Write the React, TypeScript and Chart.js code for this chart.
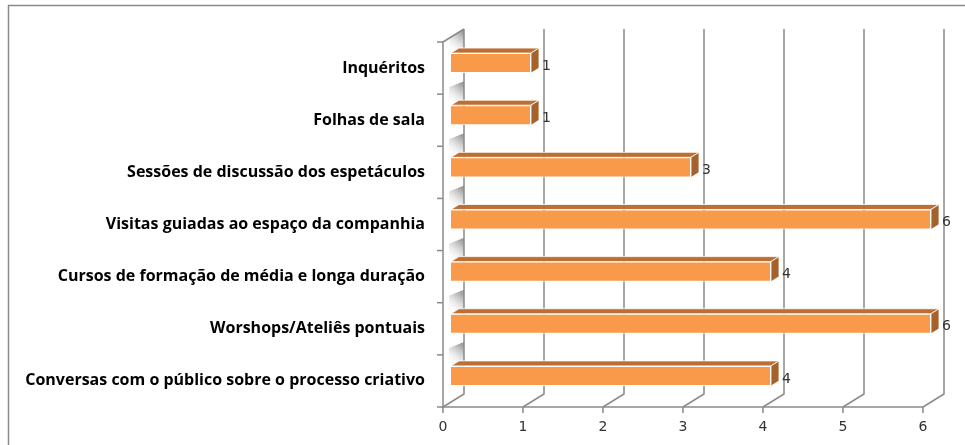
import React, { useEffect, useRef } from 'react';
import { Chart, registerables } from 'chart.js';

Chart.register(...registerables);

const categories = [
  'Inquéritos',
  'Folhas de sala',
  'Sessões de discussão dos espetáculos',
  'Visitas guiadas ao espaço da companhia',
  'Cursos de formação de média e longa duração',
  'Worshops/Ateliês pontuais',
  'Conversas com o público sobre o processo criativo',
];
const values = [1, 1, 3, 6, 4, 6, 4];
const xTickValues = [0, 1, 2, 3, 4, 5, 6];

const WALL_DX = 21;
const WALL_DY = -13;
const BAR_OX = 8;
const BAR_OY = -5;
const DEPTH_X = 8;
const DEPTH_Y = -5;
const LINE = '#8a8a8a';

const threeD = {
  id: 'threeD',
  beforeDraw(chart: any) {
    const ctx = chart.ctx;
    ctx.save();
    ctx.fillStyle = '#ffffff';
    ctx.fillRect(0, 0, chart.width, chart.height);
    ctx.strokeStyle = '#8a8a8a';
    ctx.lineWidth = 1.5;
    ctx.strokeRect(8.5, 5.5, 1200, 800);
    ctx.restore();
  },
  beforeDatasetsDraw(chart: any) {
    const ctx = chart.ctx;
    const xs = chart.scales.x;
    const ys = chart.scales.y;
    const { top, bottom } = chart.chartArea;
    const x0 = xs.getPixelForValue(0);
    ctx.save();
    // left wall shading patches
    ctx.save();
    ctx.beginPath();
    ctx.moveTo(x0, top);
    ctx.lineTo(x0 + WALL_DX, top + WALL_DY);
    ctx.lineTo(x0 + WALL_DX, bottom + WALL_DY);
    ctx.lineTo(x0, bottom);
    ctx.closePath();
    ctx.clip();
    for (let i = 0; i < categories.length; i++) {
      const cy = ys.getPixelForValue(i) + BAR_OY;
      const barTop = cy - 10;
      const px0 = x0 + 6;
      const pTop = barTop - 24;
      ctx.beginPath();
      ctx.moveTo(px0, barTop);
      ctx.lineTo(px0, pTop + 6);
      ctx.lineTo(x0 + WALL_DX, pTop);
      ctx.lineTo(x0 + WALL_DX, barTop - 4);
      ctx.closePath();
      const g = ctx.createLinearGradient(px0, barTop - 2, x0 + WALL_DX, pTop + 4);
      g.addColorStop(0, 'rgba(255,255,255,0)');
      g.addColorStop(0.5, 'rgba(215,215,215,0.65)');
      g.addColorStop(1, 'rgba(145,145,145,0.9)');
      ctx.fillStyle = g;
      ctx.fill();
    }
    ctx.restore();

    ctx.strokeStyle = LINE;
    ctx.lineWidth = 1.5;
    // back wall verticals and floor diagonals
    xTickValues.forEach((v) => {
      const px = xs.getPixelForValue(v);
      ctx.beginPath();
      ctx.moveTo(px + WALL_DX, top + WALL_DY);
      ctx.lineTo(px + WALL_DX, bottom + WALL_DY);
      ctx.lineTo(px, bottom);
      ctx.lineTo(px, bottom + 6);
      ctx.stroke();
    });
    // front axis lines
    ctx.beginPath();
    ctx.moveTo(x0 + WALL_DX, top + WALL_DY);
    ctx.lineTo(x0, top);
    ctx.lineTo(x0, bottom);
    ctx.lineTo(xs.getPixelForValue(6), bottom);
    ctx.stroke();
    // category tick marks
    const bounds: number[] = [top];
    for (let i = 0; i < categories.length - 1; i++) {
      bounds.push((ys.getPixelForValue(i) + ys.getPixelForValue(i + 1)) / 2);
    }
    bounds.push(bottom);
    bounds.forEach((b) => {
      ctx.beginPath();
      ctx.moveTo(x0 - 6, b);
      ctx.lineTo(x0, b);
      ctx.stroke();
    });
    ctx.restore();

    ctx.save();
    ctx.translate(BAR_OX, BAR_OY);
  },
  afterDatasetsDraw(chart: any) {
    const ctx = chart.ctx;
    const meta = chart.getDatasetMeta(0);
    meta.data.forEach((bar: any, i: number) => {
      const p = bar.getProps(['x', 'y', 'base', 'height'], true);
      const l = p.base;
      const r = p.x;
      const t = p.y - p.height / 2;
      const b = p.y + p.height / 2;
      ctx.strokeStyle = 'rgba(255,255,255,0.8)';
      ctx.lineWidth = 1;
      // top face
      ctx.beginPath();
      ctx.moveTo(l, t);
      ctx.lineTo(l + DEPTH_X, t + DEPTH_Y);
      ctx.lineTo(r + DEPTH_X, t + DEPTH_Y);
      ctx.lineTo(r, t);
      ctx.closePath();
      ctx.fillStyle = '#bd6e33';
      ctx.fill();
      ctx.stroke();
      // side face
      ctx.beginPath();
      ctx.moveTo(r, t);
      ctx.lineTo(r + DEPTH_X, t + DEPTH_Y);
      ctx.lineTo(r + DEPTH_X, b + DEPTH_Y);
      ctx.lineTo(r, b);
      ctx.closePath();
      ctx.fillStyle = '#a5622b';
      ctx.fill();
      ctx.stroke();
      // value label
      ctx.fillStyle = '#333333';
      ctx.font = '14px "DejaVu Sans"';
      ctx.textAlign = 'left';
      ctx.textBaseline = 'middle';
      ctx.fillText(String(values[i]), r + DEPTH_X + 3, p.y + 3);
    });
    ctx.restore();
  },
};

export default function App() {
  const ref = useRef<HTMLCanvasElement>(null);
  useEffect(() => {
    document.body.style.margin = '0';
    const chart = new Chart(ref.current!, {
      type: 'bar',
      data: {
        labels: categories,
        datasets: [
          {
            data: values,
            backgroundColor: '#f89a4a',
            borderColor: 'rgba(255,255,255,0.9)',
            borderWidth: 1,
            barPercentage: 0.385,
            categoryPercentage: 1,
            clip: false as any,
          },
        ],
      },
      options: {
        indexAxis: 'y',
        animation: false,
        responsive: false,
        devicePixelRatio: 1,
        layout: { padding: { top: 42, right: 42, left: 0, bottom: 0 } },
        plugins: { legend: { display: false }, tooltip: { enabled: false } },
        scales: {
          x: {
            type: 'linear',
            min: 0,
            max: 6,
            border: { display: false },
            grid: { display: false, drawTicks: false },
            afterFit: (s: any) => {
              s.height = 38;
            },
            ticks: {
              stepSize: 1,
              padding: 12,
              color: '#333333',
              font: { family: 'DejaVu Sans', size: 14 },
            },
          },
          y: {
            type: 'category',
            border: { display: false },
            grid: { display: false, drawTicks: false },
            afterFit: (s: any) => {
              s.width = 443;
            },
            ticks: {
              padding: 18,
              color: '#000000',
              font: { family: 'Open Sans', size: 16, weight: 'bold' },
            },
          },
        },
      },
      plugins: [threeD],
    });
    return () => chart.destroy();
  }, []);
  return <canvas ref={ref} width={965} height={445} style={{ display: 'block' }} />;
}
